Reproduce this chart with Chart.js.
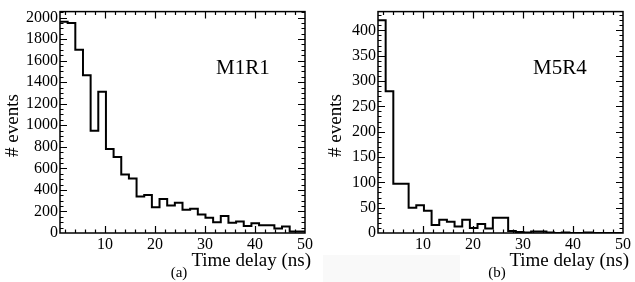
<!DOCTYPE html>
<html>
<head>
<meta charset="utf-8">
<script src="https://cdn.jsdelivr.net/npm/chart.js@4"></script>
<style>
body { margin: 0; background: #fff; width: 635px; height: 282px; position: relative; overflow: hidden; }
canvas { position: absolute; top: 0; }
#shade { position: absolute; left: 323px; top: 255px; width: 137px; height: 27px; background: #f9f9f9; }
</style>
</head>
<body>
<div id="shade"></div>
<canvas id="chartA" width="318" height="282" style="left:0"></canvas>
<canvas id="chartB" width="317" height="282" style="left:318px"></canvas>
<script>
// histogram binning (ns)
const binStart = 1;
const binEnd = 50;

// counts per bin, 32 bins from 1 to 50 ns
const countsM1R1 = [1960, 1950, 1700, 1465, 950, 1310, 780, 705, 543, 506, 338, 353, 239, 316, 255, 280,
                    215, 224, 172, 142, 100, 157, 95, 107, 65, 90, 72, 72, 42, 60, 15, 15];
const countsM5R4 = [420, 280, 97, 97, 50, 55, 44, 16, 26, 22, 13, 26, 10, 18, 9, 30,
                    30, 4, 2, 1, 3, 3, 1, 0, 1, 0, 0, 1, 0, 0, 0, 0];

const xTickValues = [10, 20, 30, 40, 50];
const yTicksM1R1 = [0, 200, 400, 600, 800, 1000, 1200, 1400, 1600, 1800, 2000];
const yTicksM5R4 = [0, 50, 100, 150, 200, 250, 300, 350, 400];

const serif = '"Liberation Serif", "Times New Roman", serif';

function histPoints(counts) {
    const w = (binEnd - binStart) / counts.length;
    const pts = counts.map((c, i) => ({ x: binStart + i * w, y: c }));
    pts.push({ x: binEnd, y: counts[counts.length - 1] });
    return pts;
}

// box frame, inward ticks and the text labels
const framePlugin = {
    id: 'frame',
    afterDatasetsDraw(chart, args, opts) {
        const { ctx, chartArea: a } = chart;
        const x = chart.scales.x, y = chart.scales.y;
        ctx.save();
        ctx.strokeStyle = '#000';
        ctx.lineWidth = 1.2;
        ctx.beginPath();
        for (let v = 2; v < binEnd; v += 2) {
            const px = Math.round(x.getPixelForValue(v)) + 0.5;
            const len = v % 10 === 0 ? 7 : 3.5;
            ctx.moveTo(px, a.bottom); ctx.lineTo(px, a.bottom - len);
            ctx.moveTo(px, a.top); ctx.lineTo(px, a.top + len);
        }
        for (let v = opts.yMinor; v < y.max; v += opts.yMinor) {
            const py = Math.round(y.getPixelForValue(v)) + 0.5;
            const len = v % opts.yMajor === 0 ? 7 : 3.5;
            ctx.moveTo(a.left, py); ctx.lineTo(a.left + len, py);
            ctx.moveTo(a.right, py); ctx.lineTo(a.right - len, py);
        }
        ctx.stroke();
        ctx.lineWidth = 1.5;
        ctx.strokeRect(a.left, a.top, a.right - a.left, a.bottom - a.top);

        ctx.fillStyle = '#000';
        ctx.textBaseline = 'alphabetic';
        ctx.font = '21px ' + serif;
        ctx.textAlign = 'left';
        ctx.fillText(opts.name, opts.nameX, 74);

        ctx.font = '19px ' + serif;
        ctx.textAlign = 'right';
        ctx.fillText('Time delay (ns)', a.right + 6, 266);

        ctx.font = '15px ' + serif;
        ctx.textAlign = 'center';
        ctx.fillText(opts.tag, 179, 277);

        ctx.translate(opts.titleX, 125.5);
        ctx.rotate(-Math.PI / 2);
        ctx.font = '19px ' + serif;
        ctx.textAlign = 'center';
        ctx.fillText('# events', 0, 0);
        ctx.restore();
    }
};

function makeChart(id, counts, yTicks, yMax, yMinor, yMajor, name, nameX, tag, titleX, padRight) {
    new Chart(document.getElementById(id).getContext('2d'), {
        type: 'line',
        data: {
            datasets: [{
                data: histPoints(counts),
                stepped: 'before',
                borderColor: '#000',
                borderWidth: 2,
                pointRadius: 0,
                fill: false
            }]
        },
        options: {
            responsive: false,
            animation: false,
            layout: { padding: { top: 9, right: padRight, left: 0, bottom: 0 } },
            plugins: {
                legend: { display: false },
                tooltip: { enabled: false },
                frame: { yMinor: yMinor, yMajor: yMajor, name: name, nameX: nameX, tag: tag, titleX: titleX }
            },
            scales: {
                x: {
                    type: 'linear',
                    min: binStart,
                    max: binEnd,
                    grid: { display: false, drawTicks: false },
                    border: { display: false },
                    afterBuildTicks: s => { s.ticks = xTickValues.map(v => ({ value: v })); },
                    afterFit: s => { s.height = 49; },
                    ticks: { color: '#000', padding: 2, maxRotation: 0, autoSkip: false,
                             callback: v => String(v), font: { family: serif, size: 16 } }
                },
                y: {
                    type: 'linear',
                    min: 0,
                    max: yMax,
                    grid: { display: false, drawTicks: false },
                    border: { display: false },
                    afterBuildTicks: s => { s.ticks = yTicks.map(v => ({ value: v })); },
                    afterFit: s => { s.width = 60; },
                    ticks: { color: '#000', padding: 2, autoSkip: false,
                             callback: v => String(v), font: { family: serif, size: 16 } }
                }
            }
        },
        plugins: [framePlugin]
    });
}

makeChart('chartA', countsM1R1, yTicksM1R1, 2055, 50, 200, 'M1R1', 216, '(a)', 17.5, 13);
makeChart('chartB', countsM5R4, yTicksM5R4, 437, 10, 50, 'M5R4', 215, '(b)', 22.5, 12);
</script>
</body>
</html>
